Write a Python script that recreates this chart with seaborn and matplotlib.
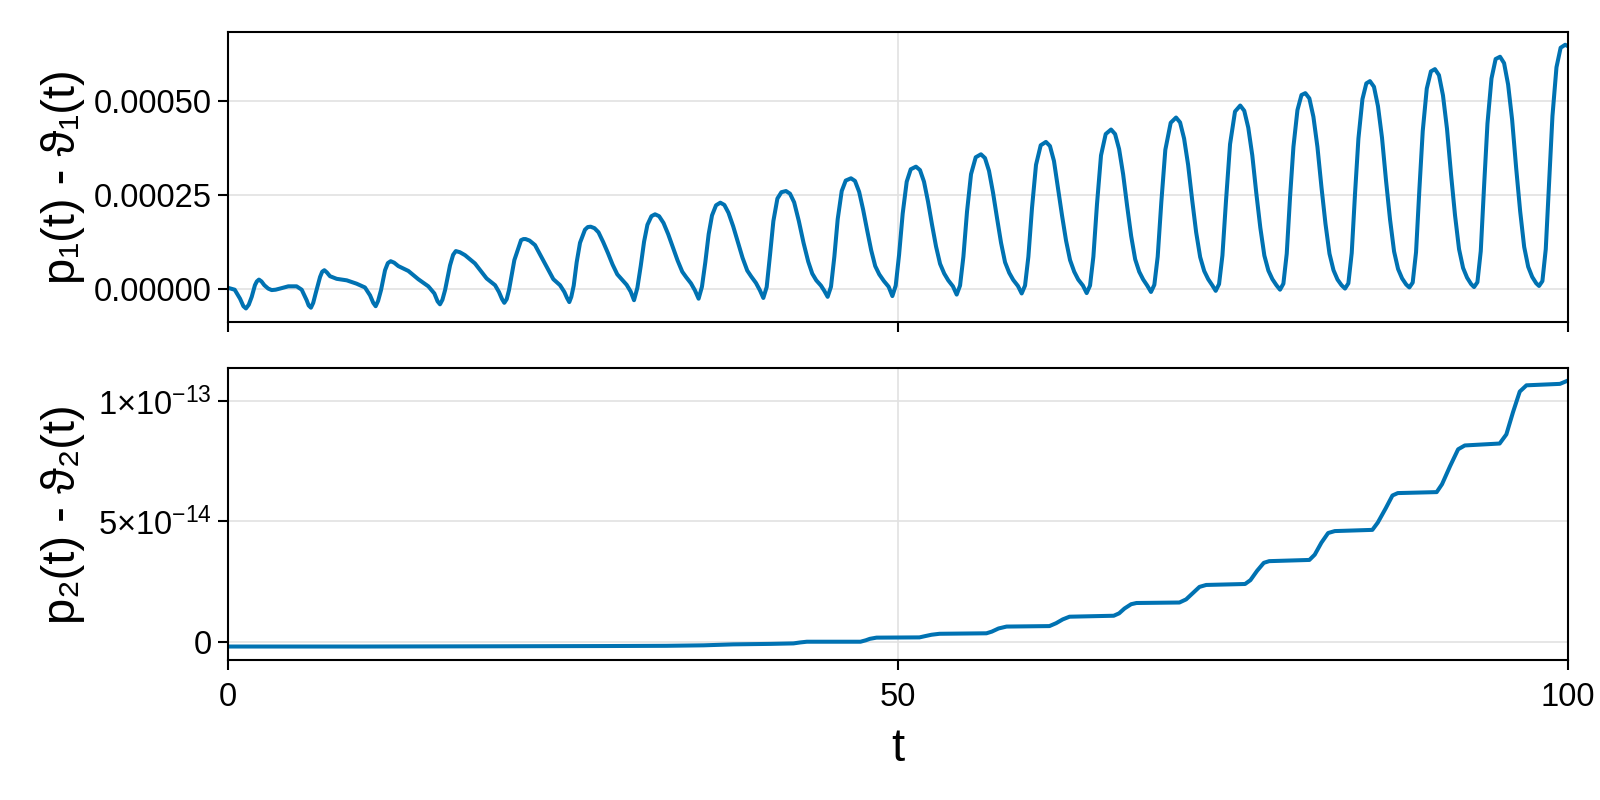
import numpy as np
import matplotlib
matplotlib.use("Agg")
import matplotlib.pyplot as plt
import seaborn as sns

# values
# top panel: p1(t) - theta1(t), in units of 1e-4
t_top = [
    0.0, 0.5, 0.9, 1.15, 1.34, 1.55, 1.77, 2.01, 2.15, 2.31, 2.5, 2.71, 3.0, 3.26, 3.55, 3.88, 4.5, 5.12,
    5.5, 5.87, 6.02, 6.19, 6.36, 6.54, 6.87, 7.03, 7.19, 7.38, 7.61, 8.11, 8.86, 9.6, 10.22,
    10.6, 10.84, 11.02, 11.2, 11.42, 11.72, 11.93, 12.14, 12.4, 12.71, 13.46, 14.2, 14.95,
    15.4, 15.64, 15.82, 16.0, 16.2, 16.57, 16.8, 17.0, 17.3, 17.69, 18.43, 19.3, 19.93,
    20.22, 20.45, 20.62, 20.8, 20.97, 21.37, 21.87, 22.05, 22.21, 22.5, 22.91, 23.65, 24.28, 24.78,
    25.1, 25.3, 25.47, 25.62, 25.8, 26.02, 26.27, 26.64, 26.85, 27.06,
    27.35, 27.65, 28.0, 28.35, 28.7, 29.05, 29.4, 29.75, 30.05, 30.3, 30.55, 30.8, 31.05, 31.3, 31.6, 31.87,
    32.17, 32.5, 32.85, 33.2, 33.55, 33.9, 34.2, 34.55, 34.85, 35.12, 35.37, 35.62, 35.87, 36.12, 36.42, 36.74,
    37.04, 37.35, 37.7, 38.05, 38.4, 38.75, 39.05, 39.4, 39.7, 39.95, 40.2, 40.45, 40.7, 41.0, 41.3, 41.64,
    41.94, 42.25, 42.6, 42.95, 43.3, 43.6, 43.9, 44.25, 44.5, 44.75, 45.0, 45.25, 45.5, 45.8, 46.1, 46.49,
    46.79, 47.1, 47.4, 47.7, 48.0, 48.3, 48.6, 48.95, 49.3, 49.58, 49.83, 50.08, 50.35, 50.65, 50.95, 51.34,
    51.64, 51.94, 52.24, 52.54, 52.84, 53.14, 53.45, 53.75, 54.1, 54.38, 54.63, 54.88, 55.15, 55.45, 55.8, 56.19,
    56.49, 56.79, 57.09, 57.39, 57.69, 57.99, 58.3, 58.6, 58.95, 59.23, 59.48, 59.73, 60.0, 60.3, 60.65, 61.04,
    61.34, 61.64, 61.94, 62.24, 62.54, 62.84, 63.15, 63.45, 63.8, 64.08, 64.33, 64.58, 64.85, 65.15, 65.5, 65.9,
    66.2, 66.5, 66.8, 67.1, 67.4, 67.7, 68.0, 68.3, 68.6, 68.88, 69.13, 69.38, 69.65, 69.95, 70.35, 70.75,
    71.05, 71.35, 71.65, 71.95, 72.25, 72.55, 72.85, 73.15, 73.45, 73.71, 73.96, 74.21, 74.48, 74.78, 75.15, 75.54,
    75.84, 76.14, 76.44, 76.74, 77.04, 77.34, 77.64, 77.94, 78.24, 78.51, 78.76, 79.01, 79.26, 79.51, 79.81, 80.11, 80.4,
    80.7, 81.0, 81.3, 81.6, 81.9, 82.2, 82.5, 82.8, 83.1, 83.36, 83.61, 83.86, 84.11, 84.36, 84.66, 84.95, 85.22,
    85.52, 85.82, 86.12, 86.42, 86.72, 87.02, 87.32, 87.62, 87.92, 88.16, 88.41, 88.66, 88.91, 89.16, 89.46, 89.77, 90.07,
    90.37, 90.67, 90.97, 91.27, 91.57, 91.87, 92.17, 92.47, 92.77, 92.99, 93.24, 93.49, 93.74, 93.99, 94.29, 94.6, 94.93,
    95.23, 95.53, 95.83, 96.13, 96.43, 96.73, 97.03, 97.33, 97.63, 97.84, 98.09, 98.34, 98.59, 98.84, 99.14, 99.45, 99.79, 100.0,
]
dp1_top = [
    0.02, -0.03, -0.27, -0.47, -0.53, -0.43, -0.22, 0.09, 0.19, 0.24, 0.19, 0.09, 0.0, -0.04, -0.03, 0.0, 0.06, 0.06,
    -0.03, -0.31, -0.45, -0.51, -0.38, -0.13, 0.31, 0.45, 0.49, 0.43, 0.33, 0.26, 0.22, 0.13, 0.03,
    -0.18, -0.38, -0.47, -0.33, -0.04, 0.49, 0.68, 0.73, 0.69, 0.6, 0.47, 0.25, 0.06,
    -0.13, -0.34, -0.42, -0.3, -0.04, 0.62, 0.9, 1.0, 0.97, 0.89, 0.67, 0.27, 0.09,
    -0.09, -0.28, -0.38, -0.28, -0.04, 0.76, 1.29, 1.32, 1.32, 1.28, 1.16, 0.67, 0.25, 0.09,
    -0.09, -0.25, -0.36, -0.22, 0.08, 0.7, 1.22, 1.57, 1.64, 1.65,
    1.61, 1.5, 1.24, 0.95, 0.64, 0.38, 0.24, 0.1, -0.08, -0.31, 0.02, 0.6, 1.25, 1.7, 1.93, 1.98,
    1.93, 1.75, 1.45, 1.1, 0.75, 0.45, 0.3, 0.14, -0.05, -0.27, 0.05, 0.7, 1.45, 1.95, 2.22, 2.29,
    2.23, 2.02, 1.66, 1.24, 0.82, 0.48, 0.32, 0.15, -0.05, -0.25, 0.04, 0.9, 1.8, 2.4, 2.57, 2.6,
    2.53, 2.3, 1.8, 1.22, 0.72, 0.4, 0.22, 0.08, -0.06, -0.22, 0.05, 0.85, 1.85, 2.6, 2.88, 2.94,
    2.87, 2.58, 2.1, 1.55, 1.02, 0.6, 0.38, 0.2, 0.05, -0.2, 0.08, 0.9, 2.0, 2.85, 3.18, 3.25,
    3.16, 2.85, 2.32, 1.7, 1.12, 0.66, 0.4, 0.22, 0.06, -0.16, 0.08, 0.85, 2.05, 3.05, 3.5, 3.58,
    3.48, 3.14, 2.56, 1.88, 1.22, 0.7, 0.42, 0.23, 0.07, -0.13, 0.08, 0.85, 2.15, 3.3, 3.82, 3.91,
    3.8, 3.4, 2.68, 1.95, 1.28, 0.76, 0.45, 0.24, 0.08, -0.12, 0.08, 0.85, 2.25, 3.55, 4.12, 4.24,
    4.12, 3.72, 3.05, 2.2, 1.4, 0.78, 0.45, 0.24, 0.08, -0.09, 0.1, 0.85, 2.3, 3.7, 4.42, 4.56,
    4.43, 4.0, 3.3, 2.37, 1.5, 0.84, 0.47, 0.25, 0.09, -0.06, 0.12, 0.88, 2.35, 3.85, 4.72, 4.88,
    4.74, 4.29, 3.55, 2.54, 1.62, 0.88, 0.48, 0.25, 0.09, -0.03, 0.13, 0.93, 2.45, 3.78, 4.76, 5.16, 5.21,
    5.07, 4.58, 3.78, 2.71, 1.73, 0.93, 0.49, 0.24, 0.09, 0.0, 0.14, 0.95, 2.55, 4.0, 5.05, 5.47, 5.53,
    5.38, 4.86, 4.02, 2.88, 1.84, 0.99, 0.52, 0.27, 0.11, 0.03, 0.16, 0.97, 2.65, 4.2, 5.33, 5.79, 5.85,
    5.69, 5.15, 4.26, 3.05, 1.95, 1.05, 0.55, 0.29, 0.12, 0.04, 0.17, 1.0, 2.75, 4.4, 5.6, 6.12, 6.18,
    6.01, 5.44, 4.5, 3.22, 2.06, 1.11, 0.58, 0.31, 0.14, 0.07, 0.2, 1.05, 2.85, 4.6, 5.9, 6.42, 6.5, 6.46,
]

# bottom panel: p2(t) - theta2(t), in units of 1e-14
t_bottom = [
    0, 10, 20, 28, 32.7, 35.5, 37.7, 40.5, 42.2, 42.7,
    43.2, 47.2, 47.6, 47.9, 48.4, 51.6, 52.0, 52.5, 53.1, 56.6,
    57.0, 57.5, 58.1, 61.3, 61.8, 62.3, 62.8, 66.1, 66.5, 66.9,
    67.4, 67.8, 71.0, 71.5, 72.0, 72.5, 73.0, 75.9, 76.3, 76.8,
    77.3, 77.7, 80.7, 81.1, 81.6, 82.1, 82.6, 85.4, 85.8, 86.4,
    86.9, 87.3, 90.2, 90.6, 91.2, 91.8, 92.3, 94.9, 95.4, 95.9,
    96.4, 96.9, 99.4, 100,
]
dp2_bottom = [
    -0.20, -0.20, -0.19, -0.18, -0.17, -0.15, -0.11, -0.09, -0.07, -0.03,
    0.0, 0.0, 0.06, 0.12, 0.17, 0.18, 0.23, 0.29, 0.33, 0.35,
    0.42, 0.55, 0.63, 0.65, 0.77, 0.93, 1.04, 1.08, 1.18, 1.38,
    1.56, 1.61, 1.63, 1.76, 2.02, 2.28, 2.36, 2.40, 2.56, 2.95,
    3.28, 3.35, 3.40, 3.62, 4.12, 4.52, 4.60, 4.65, 4.95, 5.55,
    6.08, 6.18, 6.22, 6.55, 7.3, 8.0, 8.16, 8.24, 8.62, 9.55,
    10.4, 10.66, 10.72, 10.86,
]

x_ticks = [0, 50, 100]
top_ticks = [0.0, 0.00025, 0.0005]
top_tick_labels = ["0.00000", "0.00025", "0.00050"]
bottom_ticks = [0.0, 5e-14, 1e-13]
bottom_tick_labels = ["0", r"$\mathregular{5{\times}10^{-14}}$", r"$\mathregular{1{\times}10^{-13}}$"]

sns.set_theme(style="ticks")
plt.rcParams["font.family"] = ["Liberation Sans", "DejaVu Sans"]
plt.rcParams["mathtext.fontset"] = "custom"
plt.rcParams["mathtext.rm"] = "Liberation Sans"
plt.rcParams["mathtext.it"] = "Liberation Sans:italic"

LINE = "#0072b2"
GRID = "#e2e2e2"

fig = plt.figure(figsize=(16, 8), dpi=100)
ax1 = fig.add_axes([0.1425, 0.5975, 0.8375, 0.3625])
ax2 = fig.add_axes([0.1425, 0.175, 0.8375, 0.3656])

sns.lineplot(x=t_top, y=np.array(dp1_top) * 1e-4, ax=ax1, color=LINE,
             linewidth=2.9, estimator=None, sort=False)
sns.lineplot(x=t_bottom, y=np.array(dp2_bottom) * 1e-14, ax=ax2, color=LINE,
             linewidth=2.9, estimator=None, sort=False)

for ax in (ax1, ax2):
    ax.set_xlim(0, 100)
    ax.set_xticks(x_ticks)
    ax.grid(True, color=GRID, linewidth=1.2)
    ax.set_axisbelow(True)
    for s in ax.spines.values():
        s.set_visible(True)
        s.set_color("black")
        s.set_linewidth(1.5)
    ax.tick_params(direction="out", length=7.5, width=1.5, labelsize=23.5,
                   color="black", labelcolor="black", pad=4,
                   bottom=True, left=True, top=False, right=False)
    ax.tick_params(axis="x", pad=8)

ax1.tick_params(labelbottom=False)
ax1.set_ylim(-0.0000891, 0.000684)
ax1.set_yticks(top_ticks)
ax1.set_yticklabels(top_tick_labels)
ax2.set_ylim(-7.6e-15, 1.14e-13)
ax2.set_yticks(bottom_ticks)
ax2.set_yticklabels(bottom_tick_labels)

ax1.set_xlabel("")
ax1.set_ylabel("p₁(t) - ϑ₁(t)", fontsize=34, color="black")
ax2.set_ylabel("p₂(t) - ϑ₂(t)", fontsize=34, color="black")
ax2.set_xlabel("t", fontsize=34, color="black")
ax1.yaxis.set_label_coords(-0.107, 0.5)
ax2.yaxis.set_label_coords(-0.107, 0.5)
ax2.xaxis.set_label_coords(0.5, -0.228)

fig.savefig("out.png", dpi=100)
